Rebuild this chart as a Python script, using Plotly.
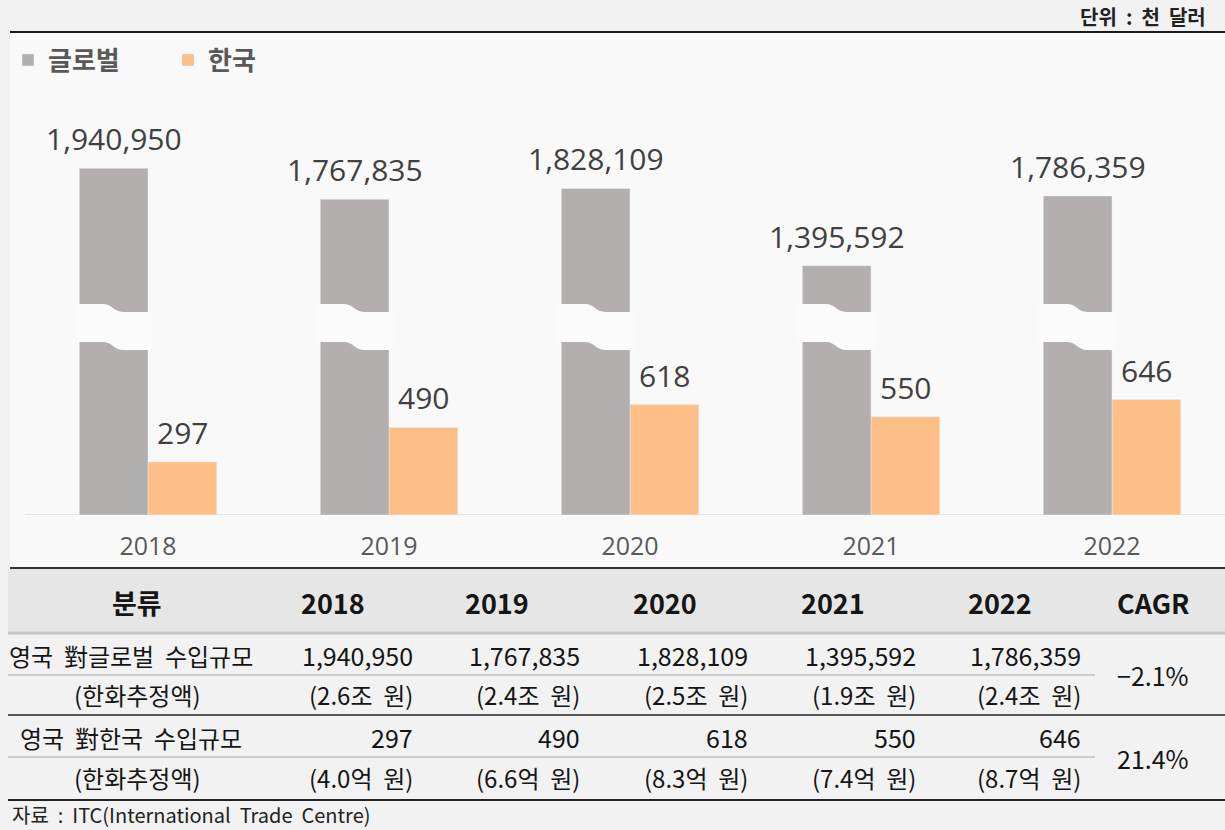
import plotly.graph_objects as go

# ---------------- data ----------------
years = ["2018", "2019", "2020", "2021", "2022"]
global_imports = [1940950, 1767835, 1828109, 1395592, 1786359]   # thousand USD
korea_imports = [297, 490, 618, 550, 646]                         # thousand USD
global_krw_jo = [2.6, 2.4, 2.5, 1.9, 2.4]                          # 조 원
korea_krw_eok = [4.0, 6.6, 8.3, 7.4, 8.7]                          # 억 원
cagr = [-2.1, 21.4]
series_names = ["글로벌", "한국"]
row_labels = ["영국 對글로벌 수입규모", "(한화추정액)", "영국 對한국 수입규모", "(한화추정액)"]
header_first = "분류"
header_last = "CAGR"
unit_text = "단위 : 천 달러"
source_text = "자료 : ITC(International Trade Centre)"

# ---------------- style ----------------
W, H = 1225, 830
GRAY = "#b4afaf"
ORANGE = "#fdbf86"
PANEL = "#f9f9f9"
PAGE = "#f2f2f2"
NUM_FONT = "Open Sans"
KR_FONT = "Noto Sans CJK KR"
WIDE = "\u00a0 "   # wider word spacing, as in the reference typeface

def px(x):
    return x / W

def py(y):
    return 1 - y / H

def wide(s):
    return s.replace(" ", WIDE)

x_idx = list(range(len(years)))
BW = 0.285
Y_MAX = 2323.6          # chart scale for the Korea series (thousand USD)
GLOBAL_SCALE = 1000.0   # global series drawn on a broken (x1000) axis

fig = go.Figure()
fig.add_trace(go.Bar(
    x=x_idx, y=global_imports, name=series_names[0], marker_color=GRAY,
    width=BW, offset=-BW, yaxis="y2",
))
fig.add_trace(go.Bar(
    x=x_idx, y=korea_imports, name=series_names[1], marker_color=ORANGE,
    width=BW, offset=0, yaxis="y",
))

annotations = []
# bar value labels
for i, v in enumerate(global_imports):
    annotations.append(dict(x=i - BW / 2, y=v, xref="x", yref="y2", text=f"{v:,}",
                            showarrow=False, yanchor="bottom", yshift=7,
                            font=dict(family=NUM_FONT, size=30, color="#404040")))
for i, v in enumerate(korea_imports):
    annotations.append(dict(x=i + BW / 2, y=v, xref="x", yref="y", text=f"{v:,}",
                            showarrow=False, yanchor="bottom", yshift=7,
                            font=dict(family=NUM_FONT, size=30, color="#404040")))

shapes = []
# chart panel background
shapes.append(dict(type="rect", xref="paper", yref="paper", x0=px(10), x1=px(W), y0=py(567), y1=py(33),
                   fillcolor=PANEL, line=dict(width=0), layer="below"))
# header background
shapes.append(dict(type="rect", xref="paper", yref="paper", x0=px(8), x1=px(W), y0=py(632), y1=py(569),
                   fillcolor="#e6e6e6", line=dict(width=0), layer="below"))
# baseline
shapes.append(dict(type="line", xref="paper", yref="y", x0=px(25), x1=1, y0=0, y1=0,
                   line=dict(color="#e4e4e4", width=2), layer="below"))

# axis-break bands over the global bars
BREAK_TOP = (1181, 1137)
BREAK_BOT = (969, 924)
for i in x_idx:
    L, R = i - BW - 0.025, i + 0.02
    m1, m2 = i - 0.19, i - 0.10
    c = 0.045
    path = (f"M{L},{BREAK_TOP[0]} H{m1} C{m1 + c},{BREAK_TOP[0]} {m2 - c},{BREAK_TOP[1]} {m2},{BREAK_TOP[1]} "
            f"H{R} V{BREAK_BOT[1]} H{m2} C{m2 - c},{BREAK_BOT[1]} {m1 + c},{BREAK_BOT[0]} {m1},{BREAK_BOT[0]} "
            f"H{L} Z")
    shapes.append(dict(type="path", xref="x", yref="y", path=path, fillcolor="#fbfbfb",
                       line=dict(width=0), layer="above"))

# horizontal rules
def hline(y, x0, x1, color, width):
    shapes.append(dict(type="line", xref="paper", yref="paper", x0=px(x0), x1=px(x1), y0=py(y), y1=py(y),
                       line=dict(color=color, width=width)))

hline(32, 10, W, "#1a1a1a", 2)
hline(568, 10, W, "#333333", 2)
hline(633, 8, W, "#c8c8c8", 3)
hline(675, 8, 1095, "#a8a8a8", 1)
hline(715, 8, W, "#222222", 1.5)
hline(757, 8, 1095, "#a8a8a8", 1)
hline(800, 8, W, "#222222", 2)

# ---------------- table text ----------------
col_centers = [333, 497, 665, 833, 1000]
col_right = [415, 582, 750, 918, 1083]
TXT = "#151515"

def ann(x, y, text, size, bold=False, xanchor="center", color=TXT, family=KR_FONT):
    annotations.append(dict(xref="paper", yref="paper", x=px(x), y=py(y), text=f"<b>{text}</b>" if bold else text,
                            showarrow=False, xanchor=xanchor, yanchor="middle",
                            font=dict(family=family, size=size, color=color)))

ann(137, 602, header_first, 27, bold=True)
for xc, yr in zip(col_centers, years):
    ann(xc, 602, yr, 27, bold=True)
ann(1153, 602, header_last, 27, bold=True)

row_y = [655, 694, 737, 777]
BODY = 24
NUM = 25
ann(131, row_y[0], wide(row_labels[0]), BODY)
ann(137, row_y[1], row_labels[1], BODY)
ann(131, row_y[2], wide(row_labels[2]), BODY)
ann(137, row_y[3], row_labels[3], BODY)

for xr, v in zip(col_right, global_imports):
    ann(xr, row_y[0], f"{v:,}", NUM, xanchor="right")
for xr, v in zip(col_right, global_krw_jo):
    ann(xr, row_y[1], wide(f"({v:.1f}조 원)"), BODY, xanchor="right")
for xr, v in zip(col_right, korea_imports):
    ann(xr, row_y[2], f"{v:,}", NUM, xanchor="right")
for xr, v in zip(col_right, korea_krw_eok):
    ann(xr, row_y[3], wide(f"({v:.1f}억 원)"), BODY, xanchor="right")

def pct(v):
    return (f"−{abs(v):.1f}%" if v < 0 else f"{v:.1f}%")

ann(1153, 675, pct(cagr[0]), NUM)
ann(1153, 758, pct(cagr[1]), NUM)

ann(1208, 16, wide(unit_text), 20, bold=True, xanchor="right", color="#222222")
ann(10, 814, wide(source_text), 20, xanchor="left", color="#222222")

# ---------------- layout ----------------
x_range = [(0 - 148) / 241, (W - 148) / 241]
y_dom = [1 - 515 / H, 1 - 100 / H]

fig.update_layout(
    width=W, height=H,
    margin=dict(l=0, r=0, t=0, b=0, autoexpand=False),
    paper_bgcolor=PAGE, plot_bgcolor="rgba(0,0,0,0)",
    barmode="overlay",
    xaxis=dict(domain=[0, 1], range=x_range, tickvals=x_idx, ticktext=years, showgrid=False,
               zeroline=False, showline=False, ticks="", ticklabelstandoff=14,
               tickfont=dict(family=NUM_FONT, size=25, color="#595959"), fixedrange=True),
    yaxis=dict(domain=y_dom, range=[0, Y_MAX], visible=False, fixedrange=True),
    yaxis2=dict(domain=y_dom, range=[0, Y_MAX * GLOBAL_SCALE], overlaying="y", visible=False,
                fixedrange=True),
    showlegend=True,
    legend=dict(orientation="h", x=px(8), y=py(60), xanchor="left", yanchor="middle",
                bgcolor="rgba(0,0,0,0)", font=dict(family=KR_FONT, size=26, color="#595959", weight="bold"),
                entrywidth=115, itemclick=False, itemdoubleclick=False),
    shapes=shapes,
    annotations=annotations,
)

fig.write_html("out.html", config={"displayModeBar": False},
               post_script="document.body.style.margin='0';document.body.style.overflow='hidden';")
